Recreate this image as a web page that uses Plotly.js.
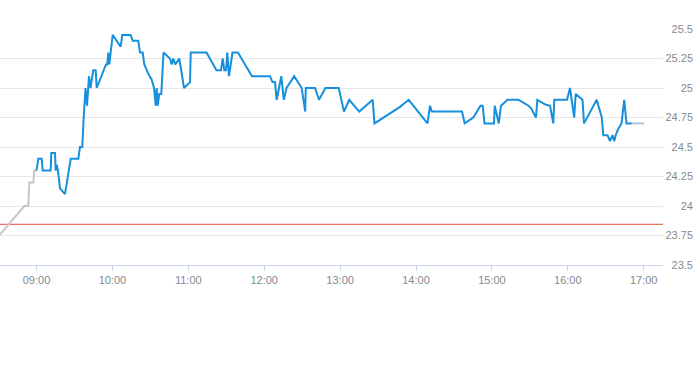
<!DOCTYPE html>
<html>
<head>
<meta charset="utf-8">
<script src="https://cdn.plot.ly/plotly-3.0.1.min.js"></script>
<style>html,body{margin:0;padding:0;background:#fff;}#chart{width:693px;height:365px;}</style>
</head>
<body>
<div id="chart"></div>
<script>
var day = '2024-01-02 ';

var preTimes = ['08:31:09','08:50:21','08:53:31','08:54:19','08:57:28','08:58:16','09:00:00'];
var preValues = [23.757, 24.0, 24.0, 24.2, 24.2, 24.3, 24.3];

var sessionTimes = [
'09:00:00','09:01:25','09:04:07','09:04:54','09:11:13','09:11:42','09:14:37','09:15:11','09:15:58','09:17:00',
'09:18:35','09:22:32','09:27:02','09:33:03','09:34:23','09:36:12','09:37:09','09:38:44','09:39:55','09:41:30',
'09:42:41','09:44:54','09:46:48','09:47:35','09:54:56','09:55:58','09:56:45','09:57:33','10:00:14','10:06:34',
'10:07:49','10:14:28','10:16:03','10:20:28','10:21:49','10:23:57','10:25:13','10:28:23','10:31:04','10:32:53',
'10:34:14','10:35:01','10:35:49','10:37:04','10:38:39','10:40:24','10:45:32','10:46:53','10:48:08','10:49:43',
'10:52:53','10:56:36','11:01:21','11:01:54','11:14:23','11:22:17','11:25:51','11:27:11','11:28:27','11:29:48',
'11:30:50','11:32:10','11:34:56','11:39:17','11:44:49','11:50:21','12:04:35','12:06:33','12:08:32','12:09:53',
'12:13:31','12:15:30','12:17:38','12:23:43','12:29:38','12:32:25','12:32:53','12:40:09','12:43:19','12:48:27',
'12:58:53','13:03:05','13:07:11','13:15:10','13:25:46','13:27:11','13:47:21','13:49:43','13:54:13','14:09:05',
'14:11:04','14:12:29','14:36:22','14:38:29','14:45:17','14:50:59','14:52:43','14:54:09','15:01:39','15:02:13',
'15:05:27','15:07:11','15:12:20','15:21:01','15:28:56','15:30:54','15:34:51','15:35:53','15:42:22','15:45:56',
'15:48:32','15:49:19','15:59:22','16:01:44','16:05:03','16:06:14','16:11:37','16:12:48','16:22:50','16:26:52',
'16:28:03','16:31:23','16:33:21','16:35:20','16:36:45','16:37:51','16:39:41','16:42:27','16:44:35','16:46:24',
'16:50:30'];
var sessionValues = [
24.30,24.40,24.40,24.30,24.30,24.45,24.45,24.30,24.35,24.30,
24.15,24.10,24.40,24.40,24.50,24.50,24.72,25.00,24.85,25.10,
25.00,25.15,25.15,25.00,25.20,25.20,25.30,25.20,25.45,25.35,
25.45,25.45,25.40,25.40,25.30,25.30,25.20,25.12,25.07,25.00,
24.85,25.00,24.85,24.95,24.95,25.30,25.25,25.20,25.25,25.20,
25.25,25.00,25.05,25.30,25.30,25.15,25.15,25.25,25.15,25.15,
25.30,25.10,25.30,25.30,25.20,25.10,25.10,25.05,25.05,24.90,
25.10,24.90,25.00,25.10,25.00,24.80,25.00,25.00,24.90,25.00,
25.00,24.80,24.90,24.80,24.90,24.70,24.84,24.86,24.90,24.70,
24.85,24.80,24.80,24.70,24.75,24.85,24.85,24.70,24.70,24.85,
24.70,24.85,24.90,24.90,24.85,24.83,24.75,24.90,24.86,24.85,
24.70,24.90,24.90,25.00,24.75,24.95,24.90,24.70,24.90,24.75,
24.60,24.60,24.55,24.60,24.55,24.60,24.65,24.70,24.90,24.70,
24.70];

var postTimes = ['16:50:30','17:00:30'];
var postValues = [24.70, 24.70];

var prevClose = 23.845;

var yTickVals = [23.5, 23.75, 24, 24.25, 24.5, 24.75, 25, 25.25, 25.5];
var yTickText = ['23.5', '23.75', '24', '24.25', '24.5', '24.75', '25', '25.25', '25.5'];
var xTickVals = ['09:00','10:00','11:00','12:00','13:00','14:00','15:00','16:00','17:00'];
var xTickText = ['09:00','10:00','11:00','12:00','13:00','14:00','15:00','16:00','17:00'];
var xRange = ['08:31:09', '17:15:15'];

function d(arr){ return arr.map(function(t){ return day + t; }); }

var traces = [
  {x: d(preTimes), y: preValues, type: 'scatter', mode: 'lines',
   line: {color: '#c3c6ca', width: 2}, hoverinfo: 'skip'},
  {x: d(postTimes), y: postValues, type: 'scatter', mode: 'lines',
   line: {color: '#b4c8d6', width: 2}, hoverinfo: 'skip'},
  {x: d(sessionTimes), y: sessionValues, type: 'scatter', mode: 'lines',
   line: {color: '#1690dc', width: 2}, hoverinfo: 'skip'}
];

var labelFont = {family: '"Liberation Sans", Arial, sans-serif', size: 11, color: '#858a91'};

var layout = {
  width: 693, height: 365,
  margin: {l: 0, r: 0, t: 29, b: 100, pad: 0},
  paper_bgcolor: '#ffffff', plot_bgcolor: '#ffffff',
  showlegend: false,
  xaxis: {
    type: 'date', domain: [0, 663/693],
    range: d(xRange),
    tickvals: d(xTickVals), ticktext: xTickText,
    showgrid: false, zeroline: false,
    showline: true, linecolor: '#ccd6eb', linewidth: 1,
    ticks: 'outside', ticklen: 5, tickcolor: '#ccd6eb', tickwidth: 1,
    tickfont: labelFont, fixedrange: true
  },
  yaxis: {
    range: [23.5, 25.5],
    anchor: 'free', position: 1, side: 'left',
    tickvals: yTickVals, ticktext: yTickText,
    showgrid: true, gridcolor: '#e6e6e6', gridwidth: 1,
    zeroline: false, showline: false, ticks: '',
    tickfont: labelFont, fixedrange: true
  },
  shapes: [
    {type: 'line', xref: 'x domain', x0: 0, x1: 1, yref: 'y', y0: prevClose, y1: prevClose,
     line: {color: '#e3493f', width: 1}, layer: 'below'}
  ]
};

Plotly.newPlot('chart', traces, layout, {displayModeBar: false, staticPlot: true});
</script>
</body>
</html>
